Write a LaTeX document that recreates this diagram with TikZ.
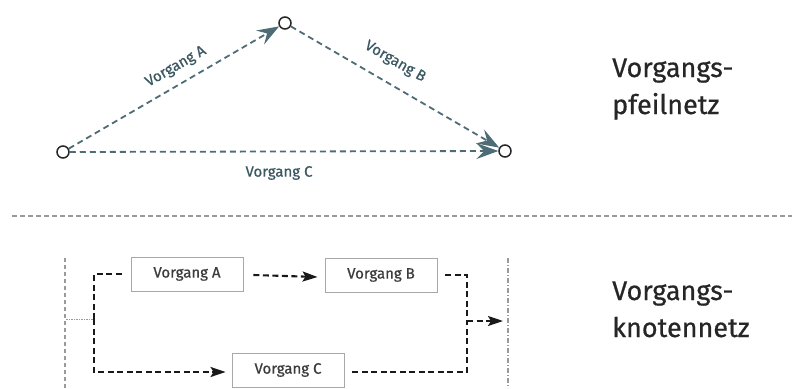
\documentclass[tikz,border=0pt]{standalone}
\usepackage{fontspec}
\setmainfont{Fira Sans}
\usetikzlibrary{arrows.meta,calc}
\definecolor{teal}{HTML}{4E6C76}
\definecolor{tealtext}{HTML}{3C5862}
\definecolor{boxline}{HTML}{A8A8A8}
\definecolor{sepline}{HTML}{9A9A9A}
\definecolor{heading}{HTML}{262626}
\newcommand{\heavier}{\addfontfeatures{FakeBold=0.6}}
\begin{document}
\begin{tikzpicture}[x=1pt,y=-1pt,
  event/.style={circle,draw=black!85,line width=1.5pt,fill=white,
    minimum size=12pt,inner sep=0pt},
  arrowline/.style={draw=teal,line width=1.8pt,dash pattern=on 6pt off 4pt,
    -{Stealth[length=22pt,width=16pt,inset=8pt,fill=teal]}},
  arrowlabel/.style={text=tealtext,font=\fontsize{15pt}{17pt}\selectfont\heavier,inner sep=1pt},
  taskbox/.style={draw=boxline,line width=0.9pt,fill=white,
    minimum width=112pt,minimum height=34pt,inner sep=0pt,
    text=heading!90,font=\fontsize{15pt}{17pt}\selectfont\heavier},
  flow/.style={draw=black!90,line width=2.1pt,dash pattern=on 6pt off 3.5pt},
  flowarrow/.style={flow,-{Stealth[length=15pt,width=10pt,inset=3pt]}},
  boundary/.style={draw=sepline,line width=1.1pt,dash pattern=on 4pt off 3pt},
  heading/.style={anchor=base west,text=heading,align=left,
    font=\fontsize{27pt}{37pt}\selectfont\heavier,inner sep=0pt}
]
\useasboundingbox (0,0) rectangle (792,388);

% ---- activity-on-arrow network ----
\node[event] (s) at (63,152) {};
\node[event] (m) at (285,23) {};
\node[event] (e) at (505,151) {};

\draw[arrowline] (s) -- (m);
\draw[arrowline] (m) -- (e);
\draw[arrowline] (s) -- (e);

\node[arrowlabel,rotate=30]  (la) at (176,67)  {Vorgang A};
\node[arrowlabel,rotate=-30] (lb) at (395,62)  {Vorgang B};
\node[arrowlabel]            (lc) at (279,173) {Vorgang C};

% heading anchored on the baseline of its last line
\node[heading] (h1) at (612,114) {Vorgangs-\\pfeilnetz};

% ---- separator ----
\coordinate (sepL) at (12,216);
\coordinate (sepR) at (792,216);
\draw[draw=sepline,line width=1.5pt,dash pattern=on 5pt off 3pt] (sepL) -- (sepR);

% ---- activity-on-node network ----
\coordinate (bl1) at (65,258);
\coordinate (bl2) at (65,388);
\coordinate (br1) at (508,258);
\coordinate (br2) at (508,388);
\draw[boundary] (bl1) -- (bl2);
\draw[draw=sepline,line width=1.1pt,dash pattern=on 5pt off 2pt on 1pt off 2pt] (br1) -- (br2);

\node[taskbox] (A) at (187,274) {Vorgang A};
\node[taskbox] (B) at (381,275) {Vorgang B};
\node[taskbox] (C) at (288,370) {Vorgang C};

\coordinate (start) at (66,319);
\coordinate (split) at (94,319);
\coordinate (join)  at (467,321);
\coordinate (end)   at (508,321);

\draw[draw=sepline,line width=1pt,dash pattern=on 1.5pt off 1pt] (start) -- (split);
\draw[flow] (split) |- ([xshift=-8pt]A.west);
\draw[flowarrow] (split) |- ([xshift=-6pt,yshift=-2pt]C.west);
\draw[flowarrow] ([xshift=10pt,yshift=-1pt]A.east) -- ([xshift=-7pt,yshift=-2pt]B.west);
\draw[flow] ([xshift=8pt]B.east) -| (join);
\draw[flow] ([xshift=8pt,yshift=-2pt]C.east) -| (join);
\draw[flowarrow] (join) -- ([xshift=-5pt]end);

\node[heading] (h2) at (612,337) {Vorgangs-\\knotennetz};
\end{tikzpicture}
\end{document}
